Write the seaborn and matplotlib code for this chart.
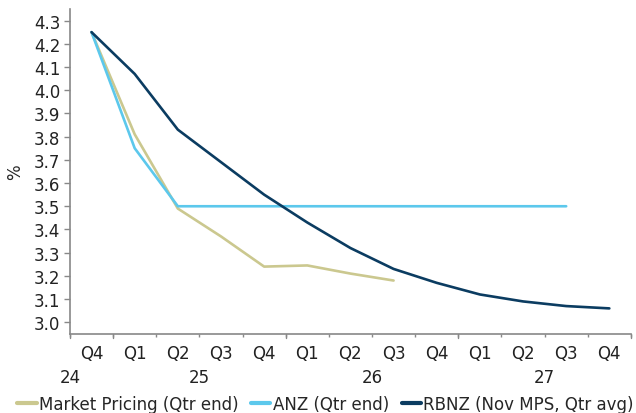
import numpy as np
import pandas as pd
import seaborn as sns
from matplotlib import pyplot as plt
import matplotlib.transforms as mtransforms

sns.set_style('ticks')
plt.rcParams['font.family'] = ['DejaVu Sans']
plt.rcParams['font.size'] = 12

# quarters from Q4 2024 to Q4 2027
quarters = ['Q4', 'Q1', 'Q2', 'Q3', 'Q4', 'Q1', 'Q2', 'Q3', 'Q4', 'Q1', 'Q2', 'Q3', 'Q4']
years = ['24', '25', '26', '27']
year_pos = [-0.5, 2.5, 6.5, 10.5]  # where each year label sits (category units)
year_edges = [-0.5, 0.5, 4.5, 8.5, 12.5]

market = [4.25, 3.81, 3.49, 3.37, 3.24, 3.245, 3.21, 3.18, np.nan, np.nan, np.nan, np.nan, np.nan]
anz = [4.25, 3.75, 3.50, 3.50, 3.50, 3.50, 3.50, 3.50, 3.50, 3.50, 3.50, 3.50, np.nan]
rbnz = [4.25, 4.07, 3.83, 3.69, 3.55, 3.43, 3.32, 3.23, 3.17, 3.12, 3.09, 3.07, 3.06]

names = ['Market Pricing (Qtr end)', 'ANZ (Qtr end)', 'RBNZ (Nov MPS, Qtr avg)']
colors = ['#CBC88F', '#5CC8EC', '#0B3C61']

idx = np.arange(len(quarters))
df = pd.concat([
    pd.DataFrame({'q': idx, 'rate': vals, 'series': name})
    for name, vals in zip(names, [market, anz, rbnz])
]).dropna()

fig = plt.figure(figsize=(6.36, 4.14), dpi=100)
ax = fig.add_axes([0.110, 0.191, 0.882, 0.785])

sns.lineplot(data=df, x='q', y='rate', hue='series', hue_order=names,
             palette=colors, linewidth=1.9, ax=ax, legend=False)

ax.set_xlim(-0.5, len(quarters) - 0.5)
ax.set_ylim(2.95, 4.35)
ax.set_yticks(np.round(np.arange(3.0, 4.31, 0.1), 1))
ax.set_yticklabels(['%.1f' % v for v in np.arange(3.0, 4.31, 0.1)])
ax.set_ylabel('%', labelpad=7)
ax.set_xlabel('')

# quarter labels at category centres, tick marks between categories
ax.set_xticks(idx)
ax.set_xticklabels(quarters)
ax.tick_params(axis='x', which='major', length=0, pad=7)
ax.set_xticks(np.arange(-0.5, len(quarters), 1), minor=True)
ax.tick_params(axis='x', which='minor', length=2.5, width=1, color='#888888')
ax.tick_params(axis='y', length=4, width=1, color='#888888', pad=3)
ax.tick_params(labelcolor='#222222')

trans = mtransforms.blended_transform_factory(ax.transData, ax.transAxes)
# longer marks at year boundaries
for e in year_edges:
    ax.plot([e, e], [0, -0.014], transform=trans, color='#888888', lw=1, clip_on=False)
for yr, pos in zip(years, year_pos):
    ax.text(pos, -0.105, yr, transform=trans, ha='center', va='top', color='#222222')

sns.despine(ax=ax)
for s in ['left', 'bottom']:
    ax.spines[s].set_color('#888888')
    ax.spines[s].set_linewidth(1.2)

handles = [plt.Line2D([], [], color=c, linewidth=3) for c in colors]
fig.legend(handles, names, loc='center', bbox_to_anchor=(0.512, 0.022), ncol=3,
           frameon=False, handlelength=1.15, handletextpad=0.15, columnspacing=0.75,
           borderaxespad=0, fontsize=12)

fig.savefig('out.png', dpi=100)
